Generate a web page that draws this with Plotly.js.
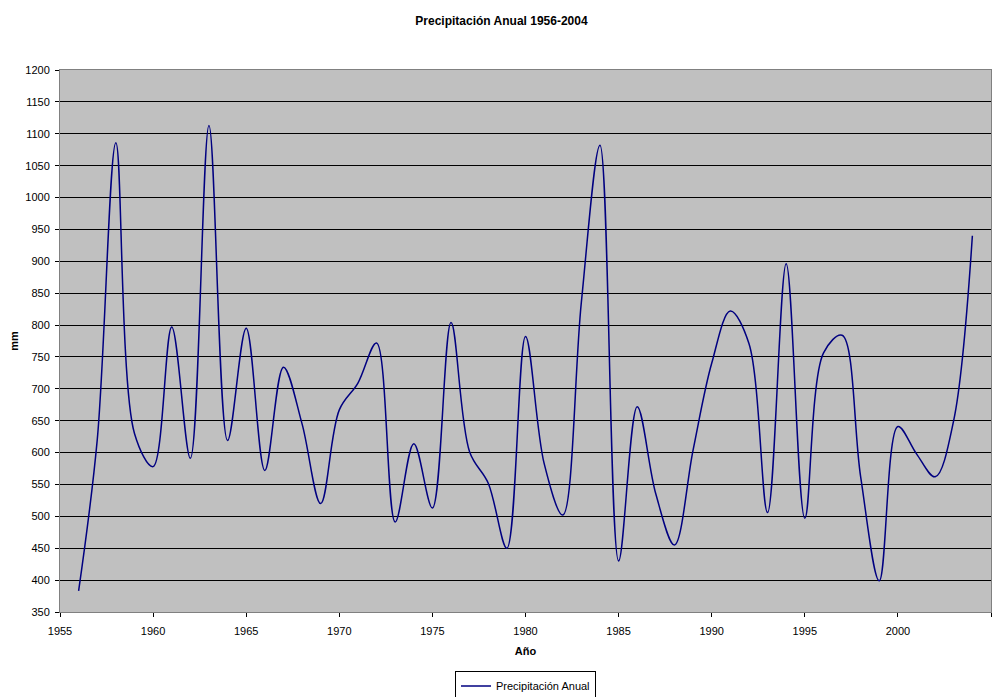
<!DOCTYPE html>
<html>
<head>
<meta charset="utf-8">
<script src="https://cdn.plot.ly/plotly-3.0.1.min.js"></script>
<style>html,body{margin:0;padding:0;background:#fff;}#chart{width:1003px;height:697px;}</style>
</head>
<body>
<div id="chart"></div>
<script>
const years = [1956,1957,1958,1959,1960,1961,1962,1963,1964,1965,1966,1967,1968,1969,1970,1971,1972,1973,1974,1975,1976,1977,1978,1979,1980,1981,1982,1983,1984,1985,1986,1987,1988,1989,1990,1991,1992,1993,1994,1995,1996,1997,1998,1999,2000,2001,2002,2003,2004];
const precipitacion = [383,620,1086,630,578,797,591,1113,619,795,572,734,645,520,667,709,772,491,614,513,804,601,552,450,782,583,502,836,1082,430,672,535,455,604,740,822,771,506,896,497,756,784,562,399,641,598,562,651,940];
const seriesName = 'Precipitación Anual';
const xTicks = [1955,1960,1965,1970,1975,1980,1985,1990,1995,2000,2005];

const font = 'Liberation Sans, Arial, sans-serif';
const trace = {
  x: years, y: precipitacion, name: seriesName, type: 'scatter', mode: 'lines',
  line: {color: '#000080', width: 1.5, shape: 'spline', smoothing: 1},
  showlegend: true
};
const layout = {
  width: 1003, height: 697,
  margin: {l: 60, r: 12, t: 70, b: 85, autoexpand: false},
  paper_bgcolor: '#ffffff', plot_bgcolor: '#c0c0c0',
  font: {family: font, size: 11, color: '#000'},
  title: {text: '<b>Precipitación Anual 1956-2004</b>', font: {family: font, size: 12, color: '#000'}, x: 0.5, xanchor: 'center', y: 0.97, yanchor: 'middle'},
  xaxis: {
    range: [1955, 2005], tickvals: xTicks, ticktext: xTicks.map(String),
    showgrid: false, zeroline: false, automargin: false,
    showline: true, linecolor: '#808080', linewidth: 1, mirror: true,
    ticks: 'outside', ticklen: 4, tickcolor: '#000', tickwidth: 1, ticklabelstandoff: 5,
    tickfont: {family: font, size: 11, color: '#000'},
    title: {text: '<b>Año</b>', font: {family: font, size: 11, color: '#000'}, standoff: 11}
  },
  yaxis: {
    range: [350, 1200], dtick: 50, tick0: 350,
    showgrid: true, gridcolor: '#000000', gridwidth: 1, zeroline: false, automargin: false,
    showline: true, linecolor: '#808080', linewidth: 1, mirror: true,
    ticks: 'outside', ticklen: 4, tickcolor: '#000', tickwidth: 1, ticklabelstandoff: 3,
    tickfont: {family: font, size: 11, color: '#000'},
    title: {text: '<b>mm</b>', font: {family: font, size: 11, color: '#000'}, standoff: 4}
  },
  showlegend: true,
  legend: {x: 0.5, xanchor: 'center', y: -0.108, yanchor: 'top', orientation: 'h',
    bordercolor: '#000', borderwidth: 1, bgcolor: '#fff',
    font: {family: font, size: 11, color: '#000'}, itemwidth: 30}
};
Plotly.newPlot('chart', [trace], layout, {displayModeBar: false, staticPlot: true});
</script>
</body>
</html>
